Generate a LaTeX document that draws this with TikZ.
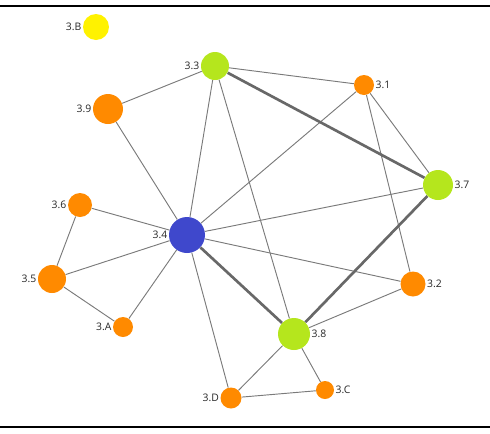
\documentclass[tikz,border=0pt]{standalone}
\usepackage{fontspec}
\setmainfont{Open Sans}
\usepackage{xcolor}
\usetikzlibrary{backgrounds}
\definecolor{nodeorange}{HTML}{FF8A00}
\definecolor{nodelime}{HTML}{B5E61D}
\definecolor{nodeyellow}{HTML}{FFF200}
\definecolor{nodeblue}{HTML}{3F48CC}
\definecolor{edgegray}{HTML}{7A7A7A}

\begin{document}
\begin{tikzpicture}[x=0.75pt, y=-0.75pt,
     vtx/.style={circle, inner sep=0pt, minimum size=#1},
     lbl/.style={font=\fontsize{7.8}{9}\selectfont, text=black!85, inner sep=0.8pt},
     link/.style={draw=edgegray, line width=0.7pt},
     heavy/.style={draw=edgegray!85!black, line width=2pt}]
\useasboundingbox (0,0) rectangle (490,433);
\draw[line width=1pt] (0,6) -- (490,6);
\draw[line width=1pt] (0,427) -- (490,427);
% vertices
\node[vtx=19.5pt, fill=nodeyellow, label={[lbl]left:3.B}]  (n3B) at (96,27)   {};
\node[vtx=21pt,   fill=nodelime,   label={[lbl]left:3.3}]  (n33) at (215,66)  {};
\node[vtx=15pt,   fill=nodeorange, label={[lbl]right:3.1}] (n31) at (364,85)  {};
\node[vtx=22.5pt, fill=nodeorange, label={[lbl]left:3.9}]  (n39) at (108,109) {};
\node[vtx=22.5pt, fill=nodelime,   label={[lbl]right:3.7}] (n37) at (438,185) {};
\node[vtx=18pt,   fill=nodeorange, label={[lbl]left:3.6}]  (n36) at (80,205)  {};
\node[vtx=27pt,   fill=nodeblue,   label={[lbl]left:3.4}]  (n34) at (187,235) {};
\node[vtx=21pt,   fill=nodeorange, label={[lbl]left:3.5}]  (n35) at (52,279)  {};
\node[vtx=18.75pt,fill=nodeorange, label={[lbl]right:3.2}] (n32) at (413,284) {};
\node[vtx=15pt,   fill=nodeorange, label={[lbl]left:3.A}]  (n3A) at (123,327) {};
\node[vtx=24pt,   fill=nodelime,   label={[lbl]right:3.8}] (n38) at (294,334) {};
\node[vtx=13.5pt, fill=nodeorange, label={[lbl]right:3.C}] (n3C) at (325,390) {};
\node[vtx=15.75pt,fill=nodeorange, label={[lbl]left:3.D}]  (n3D) at (231,398) {};
% edges
\begin{scope}[on background layer]
\foreach \a/\b in {n33/n39, n33/n31, n33/n34, n33/n38, n31/n34, n31/n37, n31/n32,
    n39/n34, n36/n34, n36/n35, n35/n34, n35/n3A, n3A/n34, n34/n37, n34/n32,
    n34/n3D, n32/n38, n38/n3D, n38/n3C, n3D/n3C}
  \draw[link] (\a) -- (\b);
\foreach \a/\b in {n33/n37, n34/n38, n37/n38}
  \draw[heavy] (\a) -- (\b);
\end{scope}
\end{tikzpicture}
\end{document}
